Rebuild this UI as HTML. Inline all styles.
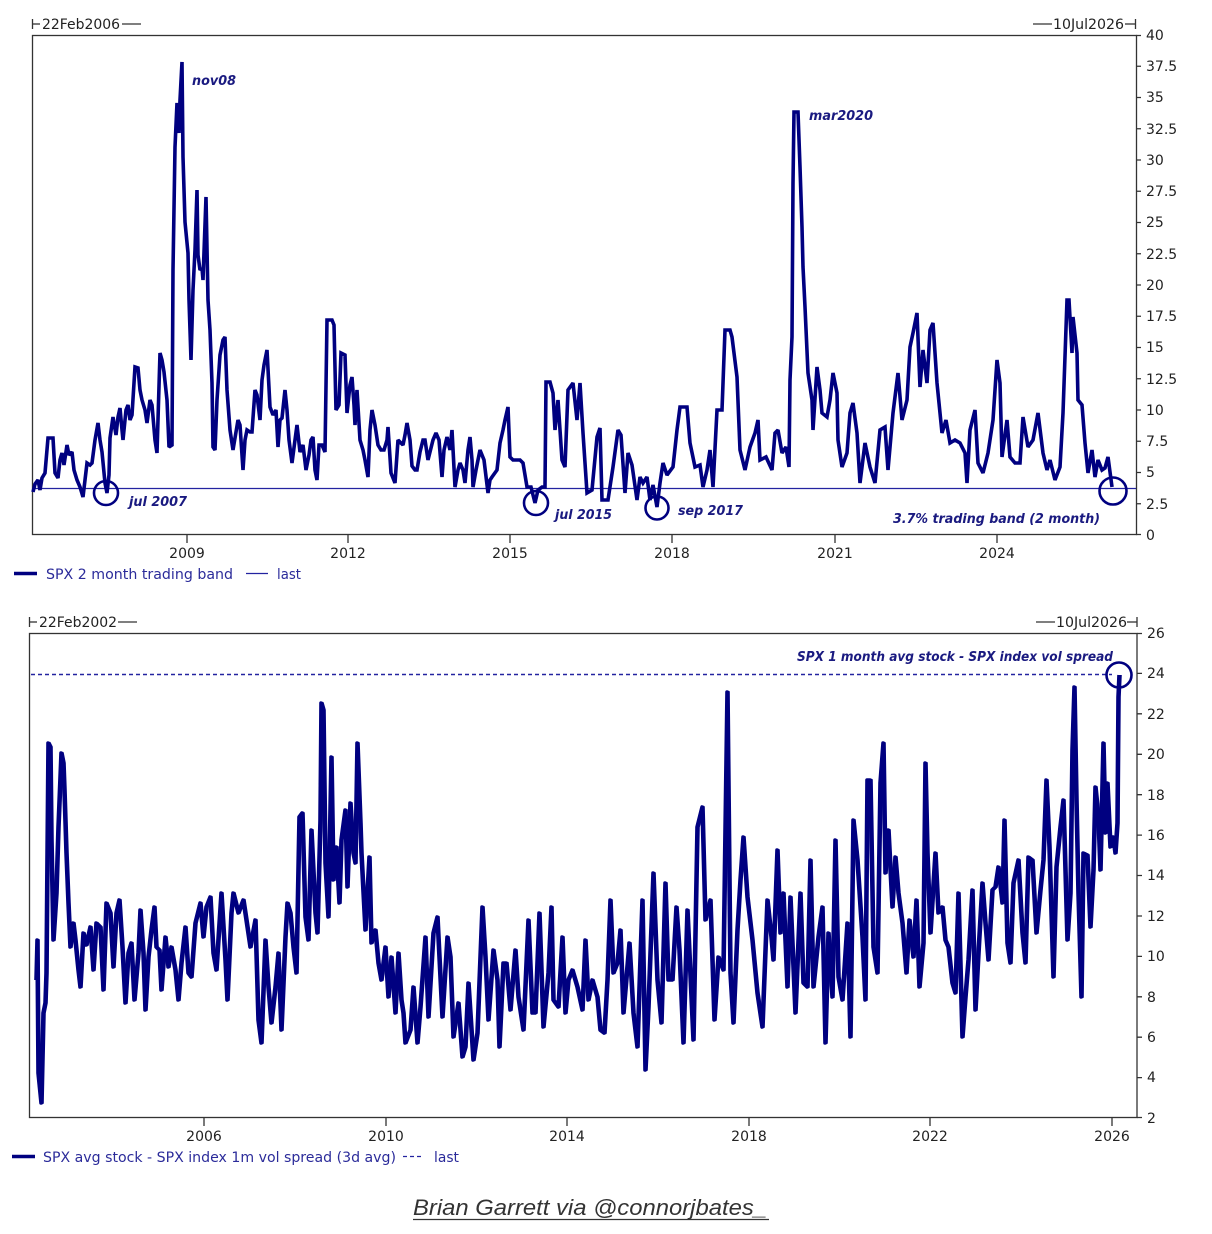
<!DOCTYPE html>
<html><head><meta charset="utf-8"><style>
html,body{margin:0;padding:0;background:#fff;}
svg{display:block;}
.t{font-family:"DejaVu Sans","Liberation Sans",sans-serif;font-size:14px;fill:#222;}
.lg{font-family:"DejaVu Sans","Liberation Sans",sans-serif;font-size:14px;fill:#2b2b9a;}
.an{font-family:"DejaVu Sans","Liberation Sans",sans-serif;font-size:13px;font-weight:bold;font-style:italic;fill:#1a1a80;}
</style></head><body>
<svg width="1212" height="1234" viewBox="0 0 1212 1234" xmlns="http://www.w3.org/2000/svg">
<rect width="1212" height="1234" fill="#fff"/>

<!-- ================= CHART 1 ================= -->
<g stroke="#333" stroke-width="1.3" fill="none">
  <rect x="32.5" y="35.5" width="1104" height="499"/>
  <line x1="32.5" y1="19" x2="32.5" y2="29"/><line x1="32.5" y1="24" x2="40" y2="24"/>
  <line x1="122" y1="24" x2="141" y2="24"/>
  <line x1="1033" y1="24" x2="1052" y2="24"/>
  <line x1="1125" y1="24" x2="1135.5" y2="24"/><line x1="1135.5" y1="19" x2="1135.5" y2="29"/>
  <path d="M1136 35.5h5M1136 66.25h5M1136 97.5h5M1136 128.75h5M1136 160h5M1136 191.25h5M1136 222.5h5M1136 253.75h5M1136 285h5M1136 316.25h5M1136 347.5h5M1136 378.75h5M1136 410h5M1136 441.25h5M1136 472.5h5M1136 503.75h5M1136 534.5h5"/>
  <path d="M187 535v8M348 535v8M510 535v8M672 535v8M835 535v8M997 535v8"/>
</g>
<text class="t" x="42" y="29" textLength="78" lengthAdjust="spacingAndGlyphs">22Feb2006</text>
<text class="t" x="1053" y="29" textLength="71" lengthAdjust="spacingAndGlyphs">10Jul2026</text>
<g class="t">
<text x="1146" y="40">40</text>
<text x="1146" y="71">37.5</text>
<text x="1146" y="102">35</text>
<text x="1146" y="134">32.5</text>
<text x="1146" y="165">30</text>
<text x="1146" y="196">27.5</text>
<text x="1146" y="227">25</text>
<text x="1146" y="259">22.5</text>
<text x="1146" y="290">20</text>
<text x="1146" y="321">17.5</text>
<text x="1146" y="352">15</text>
<text x="1146" y="384">12.5</text>
<text x="1146" y="415">10</text>
<text x="1146" y="446">7.5</text>
<text x="1146" y="477">5</text>
<text x="1146" y="509">2.5</text>
<text x="1146" y="540">0</text>
</g>
<g class="t" text-anchor="middle">
<text x="187" y="558">2009</text>
<text x="348" y="558">2012</text>
<text x="510" y="558">2015</text>
<text x="672" y="558">2018</text>
<text x="835" y="558">2021</text>
<text x="997" y="558">2024</text>
</g>

<line x1="33" y1="488.5" x2="1136" y2="488.5" stroke="#2323a0" stroke-width="1.3"/>

<polyline fill="none" stroke="#000080" stroke-width="3.6" stroke-linejoin="miter" stroke-miterlimit="2" points="33,492 35,484 38,480 40,490 42,478 45,473 48,438 53,438 55,473 58,478 60,460 62,453 64,465 67,445 69,455 72,452 74,470 77,480 80,487 83,497 85,480 87,463 90,465 92,463 95,440 98,423 100,440 102,452 105,483 107,493 109,475 110,438 113,417 116,435 118,417 120,408 122,430 123,440 126,410 128,405 130,420 132,415 135,367 138,368 140,390 142,400 145,410 147,423 150,400 152,405 155,440 157,453 160,353 162,360 164,372 167,400 169,447 172,445 173,270 175,147 177,103 179,133 180,100 182,62 183,157 185,222 188,253 189,300 191,360 193,290 195,250 197,190 198,255 200,270 202,268 203,280 206,197 208,300 210,330 212,383 213,447 215,450 217,400 220,355 223,340 225,337 227,390 230,430 233,450 236,432 238,420 240,425 243,470 245,440 247,430 250,432 252,432 255,390 257,395 260,420 262,380 264,365 267,350 270,407 273,415 276,410 278,447 280,420 282,418 285,390 287,410 289,440 292,463 295,440 297,425 300,452 303,445 306,470 309,455 311,440 313,437 315,470 317,480 319,445 322,445 325,452 327,320 332,320 334,325 336,410 339,405 341,353 345,355 347,413 350,385 352,377 354,405 355,425 357,390 360,440 363,450 365,460 368,477 370,430 372,410 375,425 378,445 381,450 384,450 387,440 388,427 391,473 395,483 398,440 403,445 405,435 407,423 410,440 412,466 415,470 417,470 420,452 423,440 425,440 428,460 430,452 433,440 436,433 439,440 442,477 444,450 447,437 450,450 452,430 455,487 458,470 460,463 463,470 465,483 468,450 470,437 472,460 473,487 476,470 480,450 484,460 488,493 490,480 492,477 497,470 500,443 503,430 505,420 508,407 510,457 513,460 517,460 520,460 523,463 527,487 531,487 535,503 538,490 542,487 545,487 546,382 550,382 553,393 555,430 558,400 562,460 565,467 568,390 573,383 577,420 580,383 583,433 587,493 592,490 597,437 600,428 602,500 608,500 613,467 618,430 621,435 625,493 628,453 632,465 637,500 640,477 643,483 647,477 650,500 653,485 657,507 660,483 663,463 667,475 673,467 677,430 680,407 687,407 690,443 695,467 700,465 703,487 707,470 710,450 713,487 717,410 722,410 725,330 730,330 732,337 737,377 740,450 745,470 750,447 755,433 758,420 760,460 766,457 772,470 775,433 778,430 782,453 786,447 789,467 790,380 792,337 793,183 794,112 798,112 800,167 802,227 803,267 805,307 808,373 812,400 813,430 817,367 820,390 822,413 827,417 830,400 833,373 837,393 838,440 842,467 847,453 850,413 853,403 857,433 860,483 865,443 870,467 875,483 880,430 885,427 888,470 893,413 898,373 902,420 907,400 910,347 913,333 917,313 920,387 923,350 927,383 930,330 933,323 937,383 942,433 946,420 950,443 955,440 960,443 965,453 967,483 970,430 975,410 978,463 983,473 988,453 993,420 997,360 1000,383 1002,457 1007,420 1010,457 1015,463 1020,463 1023,417 1028,447 1033,440 1038,413 1043,453 1047,470 1050,460 1055,480 1060,467 1063,413 1067,300 1069,300 1072,353 1073,317 1077,353 1078,400 1082,405 1085,443 1088,473 1092,450 1095,477 1098,460 1102,470 1105,468 1108,457 1112,487"/>

<g fill="none" stroke="#000080" stroke-width="2.6">
<circle cx="106" cy="493" r="12"/>
<circle cx="536" cy="503" r="12"/>
<circle cx="657" cy="508" r="11.5"/>
<circle cx="1113" cy="491" r="13.5"/>
</g>
<text class="an" x="192" y="85" textLength="44" lengthAdjust="spacingAndGlyphs">nov08</text>
<text class="an" x="809" y="120" textLength="64" lengthAdjust="spacingAndGlyphs">mar2020</text>
<text class="an" x="129" y="506" textLength="58" lengthAdjust="spacingAndGlyphs">jul 2007</text>
<text class="an" x="555" y="519" textLength="57" lengthAdjust="spacingAndGlyphs">jul 2015</text>
<text class="an" x="678" y="515" textLength="65" lengthAdjust="spacingAndGlyphs">sep 2017</text>
<text class="an" x="893" y="523" textLength="207" lengthAdjust="spacingAndGlyphs">3.7% trading band (2 month)</text>

<line x1="14" y1="573.5" x2="37" y2="573.5" stroke="#000080" stroke-width="3.5"/>
<text class="lg" x="46" y="579" textLength="187" lengthAdjust="spacingAndGlyphs">SPX 2 month trading band</text>
<line x1="246" y1="573.5" x2="268" y2="573.5" stroke="#2323a0" stroke-width="1.3"/>
<text class="lg" x="277" y="579" textLength="24" lengthAdjust="spacingAndGlyphs">last</text>

<!-- ================= CHART 2 ================= -->
<g stroke="#333" stroke-width="1.3" fill="none">
  <rect x="29.5" y="633.5" width="1107.5" height="484"/>
  <line x1="29.5" y1="617" x2="29.5" y2="627"/><line x1="29.5" y1="622" x2="37" y2="622"/>
  <line x1="118" y1="622" x2="137" y2="622"/>
  <line x1="1036" y1="622" x2="1055" y2="622"/>
  <line x1="1127" y1="622" x2="1137" y2="622"/><line x1="1137" y1="617" x2="1137" y2="627"/>
  <path d="M1137 633.5h5M1137 673.4h5M1137 713.8h5M1137 754.3h5M1137 794.7h5M1137 835.1h5M1137 875.5h5M1137 916h5M1137 956.4h5M1137 996.8h5M1137 1037.2h5M1137 1077.6h5M1137 1117.5h5"/>
  <path d="M204 1118v8M386 1118v8M567 1118v8M749 1118v8M930 1118v8M1112 1118v8"/>
</g>
<text class="t" x="39" y="627" textLength="78" lengthAdjust="spacingAndGlyphs">22Feb2002</text>
<text class="t" x="1056" y="627" textLength="71" lengthAdjust="spacingAndGlyphs">10Jul2026</text>
<g class="t">
<text x="1147" y="638">26</text>
<text x="1147" y="678">24</text>
<text x="1147" y="719">22</text>
<text x="1147" y="759">20</text>
<text x="1147" y="800">18</text>
<text x="1147" y="840">16</text>
<text x="1147" y="880">14</text>
<text x="1147" y="921">12</text>
<text x="1147" y="961">10</text>
<text x="1147" y="1002">8</text>
<text x="1147" y="1042">6</text>
<text x="1147" y="1082">4</text>
<text x="1147" y="1123">2</text>
</g>
<g class="t" text-anchor="middle">
<text x="204" y="1141">2006</text>
<text x="386" y="1141">2010</text>
<text x="567" y="1141">2014</text>
<text x="749" y="1141">2018</text>
<text x="930" y="1141">2022</text>
<text x="1112" y="1141">2026</text>
</g>

<line x1="31" y1="674.5" x2="1112" y2="674.5" stroke="#2323a0" stroke-width="1.4" stroke-dasharray="4,3"/>

<defs>
<polyline id="s2" fill="none" stroke-linejoin="round" points="36,980 37,940 38,1073 41,1103 43,1013 45,1003 46,973 48,743 50,747 51,840 53,940 56,893 58,827 61,753 63,763 64,790 66,853 68,903 70,947 73,923 75,940 78,970 80,987 83,933 86,945 90,927 93,970 96,923 100,927 103,990 106,903 110,913 113,967 116,913 119,900 122,947 125,1003 128,953 131,943 134,1000 138,953 140,910 143,953 145,1010 148,957 151,930 154,907 156,947 159,950 161,990 165,937 168,967 171,947 175,970 178,1000 181,963 185,927 188,973 191,977 195,923 200,903 203,937 206,907 210,897 213,953 216,970 221,893 225,960 227,1000 231,913 233,893 238,913 243,900 246,920 250,947 255,920 258,1020 261,1043 265,940 268,987 271,1023 275,987 278,953 281,1030 285,937 287,903 290,913 293,947 296,973 299,817 302,813 305,917 308,940 311,830 315,913 317,933 320,820 321,703 323,710 325,863 328,917 331,757 333,880 336,847 339,903 341,840 345,810 347,887 350,803 353,853 355,863 357,743 360,823 361,853 365,930 369,857 371,943 375,930 378,963 381,980 385,947 388,997 391,957 395,1013 398,953 401,1000 403,1013 405,1043 410,1030 413,987 417,1043 420,1007 425,937 428,1017 433,933 437,917 442,1017 447,937 450,957 453,1037 458,1003 462,1057 465,1047 468,983 473,1060 477,1033 482,907 485,957 488,1020 493,950 497,980 499,1047 503,963 506,963 510,1010 515,950 518,997 523,1030 528,920 532,1013 535,1013 539,913 543,1027 548,973 551,907 553,1000 558,1007 562,937 565,1013 568,980 572,970 577,987 582,1010 585,940 588,1000 592,980 597,997 600,1030 604,1033 607,980 610,900 613,973 617,963 620,930 623,1013 629,943 633,1013 637,1047 642,900 645,1070 648,1007 653,873 657,980 661,1023 665,883 668,980 672,980 676,907 679,950 683,1043 687,910 693,1040 697,827 702,807 705,920 710,900 714,1020 718,957 723,970 727,692 730,973 733,1023 737,930 740,880 743,837 747,897 752,940 757,993 762,1027 767,900 771,937 773,960 777,850 780,933 783,893 787,987 790,897 795,1013 800,893 803,983 807,987 810,860 813,987 818,937 822,907 825,1043 828,933 832,997 835,840 838,977 842,1000 847,923 850,1037 853,820 857,860 862,937 865,1000 867,780 870,780 873,947 877,973 880,783 883,743 885,873 888,830 892,907 895,857 898,893 902,923 906,973 909,920 913,957 916,900 919,987 923,943 925,763 927,853 930,933 935,853 938,913 942,907 945,940 948,947 952,983 955,993 958,893 962,1037 965,997 968,960 972,890 975,1010 978,953 982,883 985,923 988,960 992,890 995,887 998,867 1002,903 1004,820 1007,943 1010,963 1013,883 1018,860 1022,933 1025,963 1028,857 1032,860 1036,933 1040,890 1043,860 1046,780 1049,847 1053,977 1056,867 1060,827 1063,800 1067,940 1070,893 1072,750 1074,687 1076,800 1078,893 1081,997 1083,853 1087,855 1090,927 1093,870 1095,787 1098,817 1100,870 1103,743 1105,833 1107,783 1110,847 1113,837 1115,853 1117,823 1118,697 1119,675"/>
</defs>
<use href="#s2" stroke="#000080" stroke-width="3.6"/>
<use href="#s2" stroke="#000080" stroke-width="2.6" transform="translate(1.5,0)"/>

<circle cx="1119" cy="675" r="12.5" fill="none" stroke="#000080" stroke-width="2.6"/>
<text class="an" x="797" y="661" textLength="316" lengthAdjust="spacingAndGlyphs">SPX 1 month avg stock - SPX index vol spread</text>

<line x1="12" y1="1156.5" x2="35" y2="1156.5" stroke="#000080" stroke-width="3.5"/>
<text class="lg" x="43" y="1162" textLength="353" lengthAdjust="spacingAndGlyphs">SPX avg stock - SPX index 1m vol spread (3d avg)</text>
<line x1="403" y1="1156.5" x2="424" y2="1156.5" stroke="#2323a0" stroke-width="1.3" stroke-dasharray="4,3"/>
<text class="lg" x="434" y="1162" textLength="25" lengthAdjust="spacingAndGlyphs">last</text>

<text x="413" y="1215" font-family="Liberation Sans, Arial, sans-serif" font-size="22" font-style="italic" fill="#333" textLength="354" lengthAdjust="spacingAndGlyphs">Brian Garrett via @connorjbates_</text>
<line x1="413" y1="1219.5" x2="769" y2="1219.5" stroke="#333" stroke-width="1.3"/>
</svg>
</body></html>
